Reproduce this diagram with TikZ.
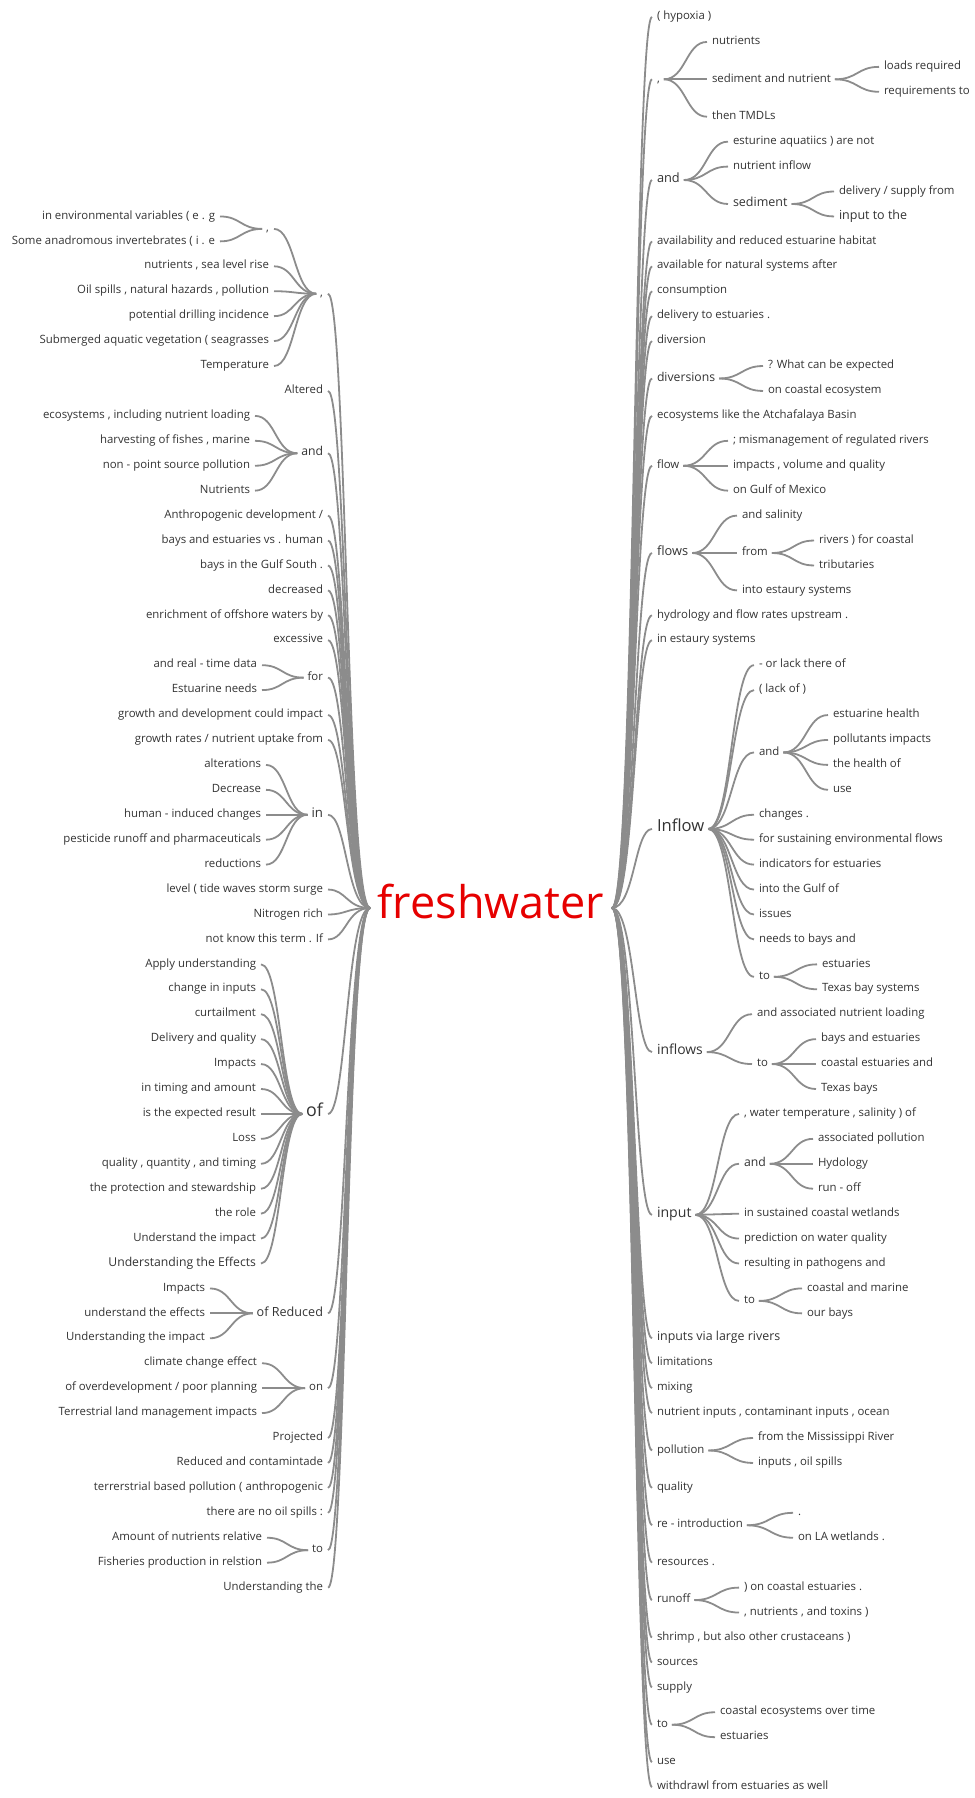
\documentclass[tikz,border=0pt]{standalone}
\usepackage{fontspec}
\setmainfont{Open Sans}
\usetikzlibrary{calc}
\definecolor{wtline}{HTML}{8C8C8C}
\definecolor{wttext}{HTML}{333333}
\definecolor{wtroot}{HTML}{E60000}

\begin{document}
\begin{tikzpicture}[x=1pt, y=-24.93pt,
  w/.style={inner sep=0pt, outer sep=0pt, text=wttext, font=\fontsize{11.4}{13}\selectfont},
  sz/.style={font=\fontsize{#1}{#1}\selectfont},
  lw/.style={w, anchor=mid east}, rw/.style={w, anchor=mid west},
  br/.style={draw=wtline, line width=1.8pt, shorten <=4pt, shorten >=5pt,
    to path={let \p1=(\tikztostart), \p2=(\tikztotarget) in
      .. controls ({(\x1+\x2)/2},\y1) and ({(\x1+\x2)/2},\y2) .. (\tikztotarget)}}]
\useasboundingbox (0,0.318) rectangle (974,72.44);

% root
\node[w, sz=45, text=wtroot, anchor=mid] (fw) at (491,37.06) {freshwater};
\coordinate (fwL) at (370,36.74);
\coordinate (fwR) at (612,36.74);

% left side
\node[lw] (Lcom) at (323,12.1) {,};
\node[lw] (Lcom2) at (269,9.5) {,};
\node[lw] (Lenv) at (215,9) {in environmental variables ( e . g};
\node[lw] (Lana) at (215,10) {Some anadromous invertebrates ( i . e};
\node[lw] (Lnsl) at (269,11) {nutrients , sea level rise};
\node[lw] (Loil) at (269,12) {Oil spills , natural hazards , pollution};
\node[lw] (Lpot) at (269,13) {potential drilling incidence};
\node[lw] (Lsub) at (269,14) {Submerged aquatic vegetation ( seagrasses};
\node[lw] (Ltemp) at (269,15) {Temperature};
\node[lw] (Lalt) at (323,16) {Altered};
\node[lw, sz=12.2] (Land) at (323,18.5) {and};
\node[lw] (Leco) at (250,17) {ecosystems , including nutrient loading};
\node[lw] (Lharv) at (250,18) {harvesting of fishes , marine};
\node[lw] (Lnps) at (250,19) {non - point source pollution};
\node[lw] (Lnutr) at (250,20) {Nutrients};
\node[lw] (Lanth) at (323,21) {Anthropogenic development /};
\node[lw] (Lbvh) at (323,22) {bays and estuaries vs . human};
\node[lw] (Lgulf) at (323,23) {bays in the Gulf South .};
\node[lw] (Ldec) at (323,24) {decreased};
\node[lw] (Lenr) at (323,25) {enrichment of offshore waters by};
\node[lw] (Lexc) at (323,26) {excessive};
\node[lw] (Lfor) at (323,27.5) {for};
\node[lw] (Lreal) at (257,27) {and real - time data};
\node[lw] (Lneed) at (257,28) {Estuarine needs};
\node[lw] (Lgdev) at (323,29) {growth and development could impact};
\node[lw] (Lgrow) at (323,30) {growth rates / nutrient uptake from};
\node[lw, sz=13.2] (Lin) at (323,33) {in};
\node[lw] (Lalter) at (261,31) {alterations};
\node[lw] (Ldecr) at (261,32) {Decrease};
\node[lw] (Lhum) at (261,33) {human - induced changes};
\node[lw] (Lpest) at (261,34) {pesticide runoff and pharmaceuticals};
\node[lw] (Lred) at (261,35) {reductions};
\node[lw] (Llev) at (323,36) {level ( tide waves storm surge};
\node[lw] (Lnit) at (323,37) {Nitrogen rich};
\node[lw] (Lterm) at (323,38) {not know this term . If};
\node[lw, sz=17.8] (Lof) at (323,45) {of};
\node[lw] (Lapp) at (256,39) {Apply understanding};
\node[lw] (Lchg) at (256,40) {change in inputs};
\node[lw] (Lcurt) at (256,41) {curtailment};
\node[lw] (Ldelq) at (256,42) {Delivery and quality};
\node[lw] (Limp1) at (256,43) {Impacts};
\node[lw] (Ltim) at (256,44) {in timing and amount};
\node[lw] (Lexp) at (256,45) {is the expected result};
\node[lw] (Lloss) at (256,46) {Loss};
\node[lw] (Lqqt) at (256,47) {quality , quantity , and timing};
\node[lw] (Lprot) at (256,48) {the protection and stewardship};
\node[lw] (Lrole) at (256,49) {the role};
\node[lw] (Luti) at (256,50) {Understand the impact};
\node[lw, sz=12.2] (Lute) at (256,51) {Understanding the Effects};
\node[lw, sz=12.6] (Lofr) at (323,53) {of Reduced};
\node[lw] (Limp2) at (205,52) {Impacts};
\node[lw] (Lute2) at (205,53) {understand the effects};
\node[lw] (Luti2) at (205,54) {Understanding the impact};
\node[lw] (Lon) at (323,56) {on};
\node[lw] (Lclim) at (257,55) {climate change effect};
\node[lw] (Lover) at (257,56) {of overdevelopment / poor planning};
\node[lw] (Lterr) at (257,57) {Terrestrial land management impacts};
\node[lw] (Lproj) at (323,58) {Projected};
\node[lw] (Lredc) at (323,59) {Reduced and contamintade};
\node[lw] (Lterp) at (323,60) {terrerstrial based pollution ( anthropogenic};
\node[lw] (Lnooil) at (323,61) {there are no oil spills :};
\node[lw] (Lto) at (323,62.5) {to};
\node[lw] (Lamt) at (262,62) {Amount of nutrients relative};
\node[lw] (Lfish) at (262,63) {Fisheries production in relstion};
\node[lw] (Lund) at (323,64) {Understanding the};

% right side
\node[rw] (Rhyp) at (657,1) {( hypoxia )};
\node[rw] (Rcom) at (657,3.5) {,};
\node[rw] (Rnut) at (712,2) {nutrients};
\node[rw] (Rsed) at (712,3.5) {sediment and nutrient};
\node[rw] (Rload) at (884,3) {loads required};
\node[rw] (Rreq) at (884,4) {requirements to};
\node[rw] (Rtmdl) at (712,5) {then TMDLs};
\node[rw, sz=12.8] (Rand) at (657,7.54) {and};
\node[rw] (Resa) at (733,6) {esturine aquatiics ) are not};
\node[rw] (Rnin) at (733,7) {nutrient inflow};
\node[rw, sz=12.5] (Rsdm) at (733,8.5) {sediment};
\node[rw] (Rdel) at (839,8) {delivery / supply from};
\node[rw, sz=12.5] (Rinp) at (839,9) {input to the};
\node[rw] (Ravl) at (657,10) {availability and reduced estuarine habitat};
\node[rw] (Ravf) at (657,11) {available for natural systems after};
\node[rw] (Rcons) at (657,12) {consumption};
\node[rw] (Rdlv) at (657,13) {delivery to estuaries .};
\node[rw] (Rdiv) at (657,14) {diversion};
\node[rw, sz=12.2] (Rdivs) at (657,15.5) {diversions};
\node[rw] (Rwhat) at (768,15) {? What can be expected};
\node[rw] (Rcoast) at (768,16) {on coastal ecosystem};
\node[rw] (Reco) at (657,17) {ecosystems like the Atchafalaya Basin};
\node[rw] (Rflow) at (657,19) {flow};
\node[rw] (Rmis) at (733,18) {; mismanagement of regulated rivers};
\node[rw] (Rimp) at (733,19) {impacts , volume and quality};
\node[rw] (Rgulf) at (733,20) {on Gulf of Mexico};
\node[rw, sz=12.8] (Rflows) at (657,22.5) {flows};
\node[rw] (Rsal) at (742,21) {and salinity};
\node[rw] (Rfrom) at (742,22.5) {from};
\node[rw] (Rriv) at (819,22) {rivers ) for coastal};
\node[rw] (Rtrib) at (819,23) {tributaries};
\node[rw] (Rinto) at (742,24) {into estaury systems};
\node[rw] (Rhyd) at (657,25) {hydrology and flow rates upstream .};
\node[rw] (Restu) at (657,26) {in estaury systems};
\node[rw, sz=16.6] (Rinfl) at (657,33.57) {Inflow};
\node[rw] (Rlack) at (759,27) {- or lack there of};
\node[rw] (Rlk) at (759,28) {( lack of )};
\node[rw] (Riand) at (759,30.5) {and};
\node[rw] (Reh) at (833,29) {estuarine health};
\node[rw] (Rpol) at (833,30) {pollutants impacts};
\node[rw] (Rhlth) at (833,31) {the health of};
\node[rw] (Ruse1) at (833,32) {use};
\node[rw] (Rchg) at (759,33) {changes .};
\node[rw] (Rsust) at (759,34) {for sustaining environmental flows};
\node[rw] (Rind) at (759,35) {indicators for estuaries};
\node[rw] (Rintg) at (759,36) {into the Gulf of};
\node[rw] (Riss) at (759,37) {issues};
\node[rw] (Rneed) at (759,38) {needs to bays and};
\node[rw] (Rito) at (759,39.5) {to};
\node[rw] (Rest1) at (822,39) {estuaries};
\node[rw] (Rtxs) at (822,40) {Texas bay systems};
\node[rw, sz=13.9] (Rinfls) at (657,42.52) {inflows};
\node[rw] (Rassoc) at (757,41) {and associated nutrient loading};
\node[rw] (Rfto) at (757,43) {to};
\node[rw] (Rbays) at (821,42) {bays and estuaries};
\node[rw] (Rcea) at (821,43) {coastal estuaries and};
\node[rw] (Rtxb) at (821,44) {Texas bays};
\node[rw, sz=14.1] (Rinput) at (657,49.05) {input};
\node[rw] (Rwtr) at (744,45) {, water temperature , salinity ) of};
\node[rw, sz=12.2] (Rpand) at (744,47) {and};
\node[rw] (Rapol) at (818,46) {associated pollution};
\node[rw] (Rhydo) at (818,47) {Hydology};
\node[rw] (Rrun) at (818,48) {run - off};
\node[rw] (Rsus) at (744,49) {in sustained coastal wetlands};
\node[rw] (Rpred) at (744,50) {prediction on water quality};
\node[rw] (Rres) at (744,51) {resulting in pathogens and};
\node[rw] (Rpto) at (744,52.5) {to};
\node[rw] (Rcm) at (807,52) {coastal and marine};
\node[rw] (Rour) at (807,53) {our bays};
\node[rw, sz=12.4] (Rinps) at (657,54) {inputs via large rivers};
\node[rw] (Rlim) at (657,55) {limitations};
\node[rw] (Rmix) at (657,56) {mixing};
\node[rw] (Rnic) at (657,57) {nutrient inputs , contaminant inputs , ocean};
\node[rw] (Rpoll) at (657,58.5) {pollution};
\node[rw] (Rmiss) at (758,58) {from the Mississippi River};
\node[rw] (Roil) at (758,59) {inputs , oil spills};
\node[rw] (Rqual) at (657,60) {quality};
\node[rw] (Rreint) at (657,61.5) {re - introduction};
\node[rw] (Rdot) at (798,61) {.};
\node[rw] (Rla) at (798,62) {on LA wetlands .};
\node[rw] (Rreso) at (657,63) {resources .};
\node[rw] (Rroff) at (657,64.5) {runoff};
\node[rw] (Rcoe) at (744,64) {) on coastal estuaries .};
\node[rw] (Rtox) at (744,65) {, nutrients , and toxins )};
\node[rw] (Rshr) at (657,66) {shrimp , but also other crustaceans )};
\node[rw] (Rsrc) at (657,67) {sources};
\node[rw] (Rsup) at (657,68) {supply};
\node[rw] (Rto) at (657,69.5) {to};
\node[rw] (Rcet) at (720,69) {coastal ecosystems over time};
\node[rw] (Rest2) at (720,70) {estuaries};
\node[rw] (Ruse) at (657,71) {use};
\node[rw] (Rwd) at (657,72) {withdrawl from estuaries as well};

% branches from the root
\foreach \nd in {Lcom,Lalt,Land,Lanth,Lbvh,Lgulf,Ldec,Lenr,Lexc,Lfor,Lgdev,Lgrow,Lin,
  Llev,Lnit,Lterm,Lof,Lofr,Lon,Lproj,Lredc,Lterp,Lnooil,Lto,Lund}
  \draw[br, shorten <=0pt] (fwL) to (\nd.mid east);
\foreach \nd in {Rhyp,Rcom,Rand,Ravl,Ravf,Rcons,Rdlv,Rdiv,Rdivs,Reco,Rflow,Rflows,Rhyd,
  Restu,Rinfl,Rinfls,Rinput,Rinps,Rlim,Rmix,Rnic,Rpoll,Rqual,Rreint,Rreso,Rroff,Rshr,
  Rsrc,Rsup,Rto,Ruse,Rwd}
  \draw[br, shorten <=0pt] (fwR) to (\nd.mid west);

% left branches
\foreach \nd in {Lcom2,Lnsl,Loil,Lpot,Lsub,Ltemp} \draw[br] (Lcom.mid west) to (\nd.mid east);
\foreach \nd in {Lenv,Lana} \draw[br] (Lcom2.mid west) to (\nd.mid east);
\foreach \nd in {Leco,Lharv,Lnps,Lnutr} \draw[br] (Land.mid west) to (\nd.mid east);
\foreach \nd in {Lreal,Lneed} \draw[br] (Lfor.mid west) to (\nd.mid east);
\foreach \nd in {Lalter,Ldecr,Lhum,Lpest,Lred} \draw[br] (Lin.mid west) to (\nd.mid east);
\foreach \nd in {Lapp,Lchg,Lcurt,Ldelq,Limp1,Ltim,Lexp,Lloss,Lqqt,Lprot,Lrole,Luti,Lute}
  \draw[br] (Lof.mid west) to (\nd.mid east);
\foreach \nd in {Limp2,Lute2,Luti2} \draw[br] (Lofr.mid west) to (\nd.mid east);
\foreach \nd in {Lclim,Lover,Lterr} \draw[br] (Lon.mid west) to (\nd.mid east);
\foreach \nd in {Lamt,Lfish} \draw[br] (Lto.mid west) to (\nd.mid east);

% right branches
\foreach \nd in {Rnut,Rsed,Rtmdl} \draw[br] (Rcom.mid east) to (\nd.mid west);
\foreach \nd in {Rload,Rreq} \draw[br] (Rsed.mid east) to (\nd.mid west);
\foreach \nd in {Resa,Rnin,Rsdm} \draw[br] (Rand.mid east) to (\nd.mid west);
\foreach \nd in {Rdel,Rinp} \draw[br] (Rsdm.mid east) to (\nd.mid west);
\foreach \nd in {Rwhat,Rcoast} \draw[br] (Rdivs.mid east) to (\nd.mid west);
\foreach \nd in {Rmis,Rimp,Rgulf} \draw[br] (Rflow.mid east) to (\nd.mid west);
\foreach \nd in {Rsal,Rfrom,Rinto} \draw[br] (Rflows.mid east) to (\nd.mid west);
\foreach \nd in {Rriv,Rtrib} \draw[br] (Rfrom.mid east) to (\nd.mid west);
\foreach \nd in {Rlack,Rlk,Riand,Rchg,Rsust,Rind,Rintg,Riss,Rneed,Rito}
  \draw[br] (Rinfl.mid east) to (\nd.mid west);
\foreach \nd in {Reh,Rpol,Rhlth,Ruse1} \draw[br] (Riand.mid east) to (\nd.mid west);
\foreach \nd in {Rest1,Rtxs} \draw[br] (Rito.mid east) to (\nd.mid west);
\foreach \nd in {Rassoc,Rfto} \draw[br] (Rinfls.mid east) to (\nd.mid west);
\foreach \nd in {Rbays,Rcea,Rtxb} \draw[br] (Rfto.mid east) to (\nd.mid west);
\foreach \nd in {Rwtr,Rpand,Rsus,Rpred,Rres,Rpto} \draw[br] (Rinput.mid east) to (\nd.mid west);
\foreach \nd in {Rapol,Rhydo,Rrun} \draw[br] (Rpand.mid east) to (\nd.mid west);
\foreach \nd in {Rcm,Rour} \draw[br] (Rpto.mid east) to (\nd.mid west);
\foreach \nd in {Rmiss,Roil} \draw[br] (Rpoll.mid east) to (\nd.mid west);
\foreach \nd in {Rdot,Rla} \draw[br] (Rreint.mid east) to (\nd.mid west);
\foreach \nd in {Rcoe,Rtox} \draw[br] (Rroff.mid east) to (\nd.mid west);
\foreach \nd in {Rcet,Rest2} \draw[br] (Rto.mid east) to (\nd.mid west);
\end{tikzpicture}
\end{document}
